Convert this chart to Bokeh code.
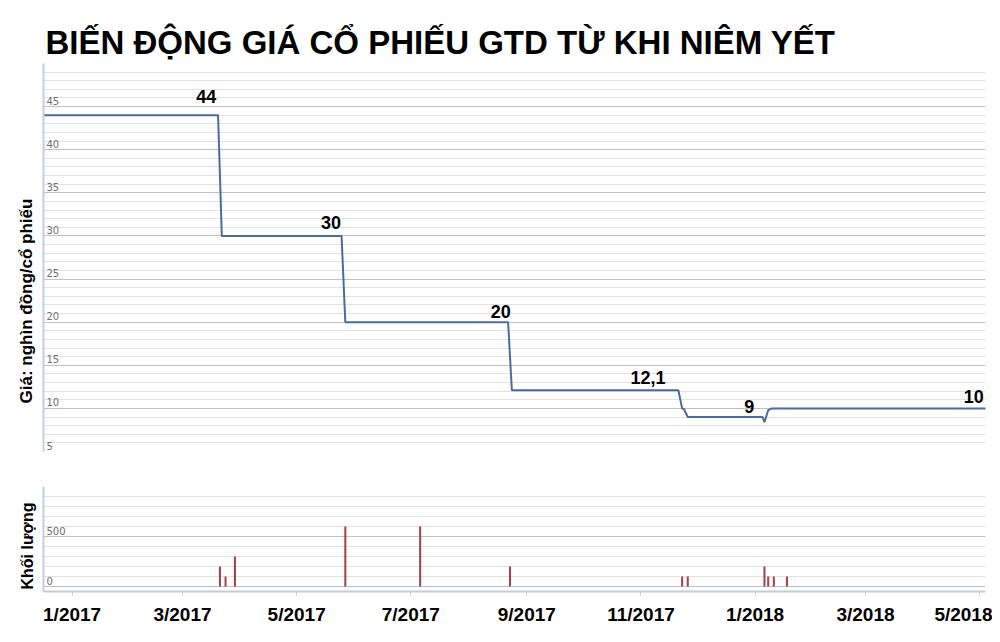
from datetime import datetime

from bokeh.plotting import figure
from bokeh.layouts import column
from bokeh.models import (ColumnDataSource, Range1d, FixedTicker, MonthsTicker,
                          CustomJSTickFormatter, Title)
from bokeh.core.properties import value
from bokeh.embed import file_html
from bokeh.resources import INLINE

# gia co phieu GTD (nghin dong), cac diem doi gia
price_dates = [datetime(2016, 12, 16), datetime(2017, 3, 20), datetime(2017, 3, 22),
               datetime(2017, 5, 25), datetime(2017, 5, 27), datetime(2017, 8, 22),
               datetime(2017, 8, 24), datetime(2017, 11, 21), datetime(2017, 11, 23),
               datetime(2017, 11, 24), datetime(2017, 11, 26), datetime(2018, 1, 5),
               datetime(2018, 1, 6), datetime(2018, 1, 8), datetime(2018, 1, 10),
               datetime(2018, 5, 5)]
price_values = [44, 44, 30, 30, 20, 20, 12.1, 12.1, 10.0, 9.9, 9, 9, 8.4, 9.8, 10, 10]

# nhan gia
label_dates = [datetime(2017, 3, 13, 16), datetime(2017, 5, 19, 10), datetime(2017, 8, 18, 2),
               datetime(2017, 11, 4, 17), datetime(2017, 12, 28, 22), datetime(2018, 4, 27, 20)]
label_values = [44, 30, 20, 12.1, 9, 10]
label_texts = ["44", "30", "20", "12,1", "9", "10"]

# khoi luong giao dich
vol_dates = [datetime(2017, 3, 21), datetime(2017, 3, 24), datetime(2017, 3, 29),
             datetime(2017, 5, 27), datetime(2017, 7, 6), datetime(2017, 8, 23),
             datetime(2017, 11, 23), datetime(2017, 11, 26), datetime(2018, 1, 6),
             datetime(2018, 1, 8), datetime(2018, 1, 11), datetime(2018, 1, 18)]
vol_values = [200, 100, 300, 600, 600, 200, 100, 100, 200, 100, 100, 100]

price_ticks = [5, 10, 15, 20, 25, 30, 35, 40, 45]
vol_ticks = [0, 500]

x_start = datetime(2016, 12, 16, 17)
x_end = datetime(2018, 5, 4, 3)
x_range = Range1d(start=x_start, end=x_end)

FONT = "Liberation Sans"
AXIS_BLUE = "#c3cfdf"
MAJOR = "#c0c0c0"
MINOR = "#e2e2e2"

# ---- bieu do gia ----
p1 = figure(width=992, height=470, x_range=x_range, y_range=Range1d(5, 50),
            x_axis_type="datetime", x_axis_location=None,
            output_backend="svg", toolbar_location=None,
            min_border_left=43, min_border_right=7, min_border_top=63, min_border_bottom=19,
            title="BIẾN ĐỘNG GIÁ CỔ PHIẾU GTD TỪ KHI NIÊM YẾT")
p1.title.text_font = FONT
p1.title.text_font_size = "33px"
p1.title.text_font_style = "bold"
p1.title.text_color = "black"
p1.title.align = "left"
p1.title.offset = 2
p1.title.standoff = 6
p1.outline_line_color = None

p1.yaxis.ticker = FixedTicker(ticks=[])
p1.yaxis.axis_line_color = AXIS_BLUE
p1.yaxis.axis_line_width = 2
p1.yaxis.major_tick_line_color = None
p1.yaxis.minor_tick_line_color = None
p1.ygrid.ticker = FixedTicker(ticks=list(range(5, 51, 5)), minor_ticks=list(range(5, 51)))
p1.ygrid.grid_line_color = MAJOR
p1.ygrid.minor_grid_line_color = MINOR
p1.xgrid.grid_line_color = None

p1.add_layout(Title(text="Giá: nghìn đồng/cổ phiếu", align="left", offset=48, standoff=15,
                    text_font=FONT, text_font_size="17px", text_font_style="bold",
                    text_color="black"), "left")

p1.text(x=[x_start] * len(price_ticks), y=price_ticks, text=[str(t) for t in price_ticks],
        x_offset=3, y_offset=-6, text_align="left", text_baseline="middle",
        text_font=value("DejaVu Sans"), text_font_size="10px", text_color="#707070")

src = ColumnDataSource(dict(date=price_dates, price=price_values))
p1.line(x="date", y="price", source=src, line_color="#4a6c9b", line_width=2)

# khoang cach tam nhan so voi duong gia (px)
label_lift = [-19, -13, -11, -13, -11, -12]
lsrc = ColumnDataSource(dict(date=label_dates, price=label_values, text=label_texts,
                             lift=label_lift))
p1.text(x="date", y="price", text="text", y_offset="lift", source=lsrc,
        text_align="center", text_baseline="middle",
        text_font=value(FONT), text_font_size="18px", text_font_style="bold",
        text_color="black")

# ---- bieu do khoi luong ----
p2 = figure(width=992, height=162, x_range=x_range, y_range=Range1d(-50, 1000),
            x_axis_type="datetime",
            output_backend="svg", toolbar_location=None,
            min_border_left=43, min_border_right=7, min_border_top=16, min_border_bottom=41)
p2.outline_line_color = None

p2.yaxis.ticker = FixedTicker(ticks=[])
p2.yaxis.axis_line_color = AXIS_BLUE
p2.yaxis.axis_line_width = 2
p2.yaxis.major_tick_line_color = None
p2.yaxis.minor_tick_line_color = None
p2.ygrid.ticker = FixedTicker(ticks=[0, 500, 1000], minor_ticks=list(range(0, 1001, 100)))
p2.ygrid.grid_line_color = MAJOR
p2.ygrid.minor_grid_line_color = MINOR
p2.xgrid.grid_line_color = None

p2.xaxis.ticker = MonthsTicker(months=[0, 2, 4, 6, 8, 10])
p2.xaxis.formatter = CustomJSTickFormatter(
    code="const d = new Date(tick); return (d.getUTCMonth() + 1) + '/' + d.getUTCFullYear();")
p2.xaxis.axis_line_color = "#c4ccd6"
p2.xaxis.axis_line_width = 2
p2.xaxis.major_tick_line_color = "#c4ccd6"
p2.xaxis.major_tick_in = 0
p2.xaxis.major_tick_out = 4
p2.xaxis.minor_tick_line_color = None
p2.xaxis.major_label_standoff = 8
p2.xaxis.major_label_text_font = FONT
p2.xaxis.major_label_text_font_size = "19px"
p2.xaxis.major_label_text_font_style = "bold"
p2.xaxis.major_label_text_color = "black"

p2.add_layout(Title(text="Khối lượng", align="left", offset=2, standoff=15,
                    text_font=FONT, text_font_size="16px", text_font_style="bold",
                    text_color="black"), "left")

p2.text(x=[x_start] * len(vol_ticks), y=vol_ticks, text=[str(t) for t in vol_ticks],
        x_offset=3, y_offset=-6, text_align="left", text_baseline="middle",
        text_font=value("DejaVu Sans"), text_font_size="10px", text_color="#707070")

vsrc = ColumnDataSource(dict(date=vol_dates, vol=vol_values))
p2.vbar(x="date", top="vol", bottom=0, width=1.1 * 86400000, source=vsrc,
        fill_color="#a3434b", line_color=None)

layout = column(p1, p2)
open("out.html", "w").write(file_html(layout, INLINE))
